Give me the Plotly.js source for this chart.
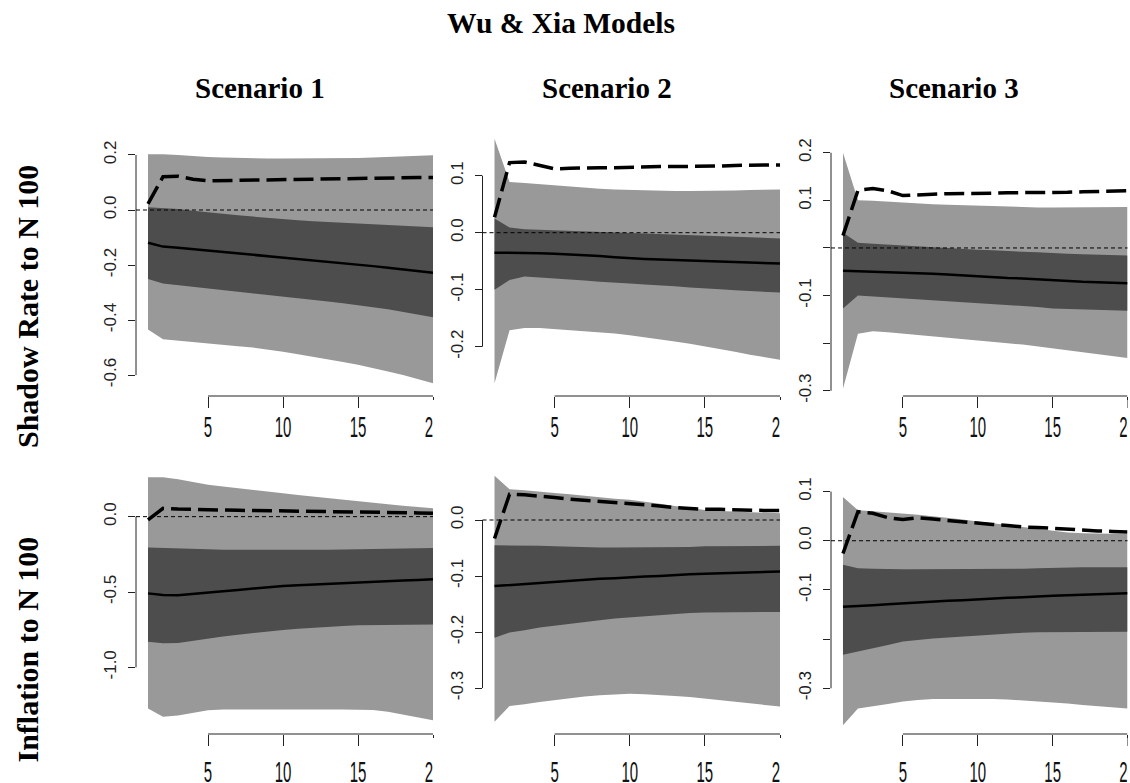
<!DOCTYPE html>
<html>
<head>
<meta charset="utf-8">
<script src="https://cdn.plot.ly/plotly-3.0.1.min.js"></script>
<style>
  html, body { margin: 0; padding: 0; background: #fff; }
  #chart { width: 1130px; height: 783px; }
</style>
</head>
<body>
<div id="chart"></div>
<script>
// ---------------- DATA ----------------
const horizon = [1,2,3,4,5,6,7,8,9,10,11,12,13,14,15,16,17,18,19,20];
const xTickVals = [5, 10, 15, 20];
const xTickText = ["5", "10", "15", "20"];

const mainTitle = "Wu & Xia Models";
const scenarioTitles = ["Scenario 1", "Scenario 2", "Scenario 3"];
const rowTitles = ["Shadow Rate to N 100", "Inflation to N 100"];

// Shadow Rate to N 100 — Scenario 1
const sr1OuterHi = [0.203,0.203,0.200,0.196,0.193,0.191,0.189,0.188,0.187,0.187,0.187,0.187,0.187,0.188,0.189,0.191,0.193,0.196,0.198,0.199];
const sr1InnerHi = [0.010,0.008,0.004,-0.003,-0.009,-0.014,-0.019,-0.024,-0.029,-0.033,-0.037,-0.041,-0.044,-0.047,-0.050,-0.053,-0.056,-0.059,-0.061,-0.063];
const sr1Median  = [-0.119,-0.133,-0.137,-0.142,-0.148,-0.153,-0.158,-0.163,-0.168,-0.174,-0.179,-0.184,-0.189,-0.194,-0.199,-0.204,-0.210,-0.216,-0.222,-0.228];
const sr1InnerLo = [-0.251,-0.267,-0.272,-0.278,-0.285,-0.291,-0.297,-0.303,-0.309,-0.315,-0.321,-0.327,-0.333,-0.339,-0.345,-0.353,-0.361,-0.370,-0.380,-0.390];
const sr1OuterLo = [-0.434,-0.470,-0.475,-0.480,-0.485,-0.490,-0.495,-0.500,-0.507,-0.515,-0.524,-0.533,-0.542,-0.552,-0.562,-0.574,-0.587,-0.600,-0.614,-0.630];
const sr1Dashed  = [0.022,0.121,0.123,0.112,0.106,0.107,0.108,0.109,0.110,0.111,0.112,0.113,0.114,0.115,0.116,0.117,0.117,0.118,0.118,0.118];
const sr1TickVals = [-0.6,-0.4,-0.2,0,0.2];
const sr1TickText = ["-0.6","-0.4","-0.2","0.0","0.2"];

// Shadow Rate to N 100 — Scenario 2
const sr2OuterHi = [0.165,0.089,0.087,0.085,0.082,0.080,0.079,0.077,0.076,0.075,0.074,0.074,0.073,0.073,0.073,0.074,0.074,0.075,0.075,0.076];
const sr2InnerHi = [0.025,0.009,0.006,0.005,0.004,0.003,0.002,0.001,0.000,-0.001,-0.002,-0.003,-0.004,-0.005,-0.006,-0.007,-0.008,-0.009,-0.010,-0.010];
const sr2Median  = [-0.035,-0.035,-0.036,-0.036,-0.037,-0.038,-0.040,-0.041,-0.043,-0.045,-0.046,-0.047,-0.048,-0.049,-0.049,-0.050,-0.051,-0.052,-0.053,-0.054];
const sr2InnerLo = [-0.100,-0.083,-0.077,-0.078,-0.080,-0.082,-0.084,-0.086,-0.088,-0.089,-0.091,-0.093,-0.094,-0.096,-0.098,-0.099,-0.101,-0.102,-0.104,-0.105];
const sr2OuterLo = [-0.264,-0.171,-0.167,-0.167,-0.168,-0.170,-0.172,-0.175,-0.177,-0.180,-0.183,-0.187,-0.191,-0.195,-0.200,-0.204,-0.209,-0.214,-0.219,-0.223];
const sr2Dashed  = [0.027,0.123,0.124,0.118,0.112,0.113,0.114,0.114,0.114,0.115,0.115,0.116,0.116,0.116,0.117,0.117,0.118,0.118,0.118,0.119];
const sr2TickVals = [-0.2,-0.1,0,0.1];
const sr2TickText = ["-0.2","-0.1","0.0","0.1"];

// Shadow Rate to N 100 — Scenario 3
const sr3OuterHi = [0.200,0.100,0.099,0.097,0.095,0.094,0.092,0.091,0.090,0.088,0.087,0.087,0.086,0.085,0.085,0.085,0.085,0.085,0.086,0.086];
const sr3InnerHi = [0.032,0.011,0.009,0.007,0.005,0.003,0.001,-0.001,-0.002,-0.004,-0.005,-0.007,-0.008,-0.009,-0.011,-0.012,-0.013,-0.014,-0.015,-0.016];
const sr3Median  = [-0.048,-0.049,-0.050,-0.050,-0.051,-0.052,-0.054,-0.056,-0.058,-0.060,-0.061,-0.063,-0.064,-0.066,-0.068,-0.069,-0.071,-0.072,-0.073,-0.074];
const sr3InnerLo = [-0.127,-0.100,-0.102,-0.104,-0.106,-0.108,-0.110,-0.112,-0.114,-0.116,-0.118,-0.120,-0.122,-0.124,-0.127,-0.128,-0.129,-0.130,-0.131,-0.132];
const sr3OuterLo = [-0.296,-0.180,-0.175,-0.177,-0.180,-0.182,-0.185,-0.188,-0.191,-0.194,-0.197,-0.200,-0.203,-0.207,-0.210,-0.214,-0.218,-0.222,-0.227,-0.231];
const sr3Dashed  = [0.026,0.121,0.125,0.120,0.110,0.112,0.113,0.114,0.114,0.115,0.115,0.116,0.116,0.116,0.116,0.117,0.118,0.119,0.119,0.120];
const sr3TickVals = [-0.3,-0.2,-0.1,0,0.1,0.2];
const sr3TickText = ["-0.3","","-0.1","","0.1","0.2"];

// Inflation to N 100 — Scenario 1
const inf1OuterHi = [0.262,0.261,0.248,0.230,0.212,0.200,0.190,0.178,0.166,0.155,0.144,0.133,0.122,0.111,0.100,0.091,0.082,0.072,0.063,0.055];
const inf1InnerHi = [-0.204,-0.208,-0.212,-0.215,-0.217,-0.219,-0.220,-0.221,-0.221,-0.221,-0.221,-0.220,-0.219,-0.217,-0.215,-0.213,-0.211,-0.209,-0.208,-0.208];
const inf1Median  = [-0.509,-0.520,-0.521,-0.514,-0.504,-0.495,-0.486,-0.477,-0.468,-0.460,-0.455,-0.450,-0.446,-0.442,-0.438,-0.434,-0.429,-0.424,-0.420,-0.416];
const inf1InnerLo = [-0.830,-0.840,-0.838,-0.825,-0.808,-0.795,-0.783,-0.771,-0.761,-0.752,-0.744,-0.737,-0.730,-0.725,-0.720,-0.717,-0.716,-0.715,-0.715,-0.715];
const inf1OuterLo = [-1.272,-1.327,-1.320,-1.300,-1.285,-1.279,-1.279,-1.279,-1.279,-1.279,-1.279,-1.279,-1.279,-1.279,-1.279,-1.283,-1.295,-1.310,-1.330,-1.350];
const inf1Dashed  = [-0.022,0.055,0.050,0.047,0.044,0.043,0.042,0.041,0.040,0.039,0.038,0.037,0.036,0.035,0.033,0.031,0.029,0.027,0.025,0.022];
const inf1TickVals = [-1.0,-0.5,0];
const inf1TickText = ["-1.0","-0.5","0.0"];

// Inflation to N 100 — Scenario 2
const inf2OuterHi = [0.079,0.055,0.053,0.050,0.048,0.046,0.043,0.040,0.038,0.036,0.033,0.029,0.025,0.021,0.018,0.016,0.015,0.014,0.013,0.012];
const inf2InnerHi = [-0.045,-0.045,-0.046,-0.046,-0.047,-0.048,-0.049,-0.049,-0.049,-0.049,-0.049,-0.048,-0.048,-0.048,-0.047,-0.047,-0.046,-0.046,-0.046,-0.046];
const inf2Median  = [-0.118,-0.116,-0.114,-0.112,-0.110,-0.108,-0.107,-0.105,-0.104,-0.102,-0.101,-0.100,-0.098,-0.097,-0.096,-0.095,-0.094,-0.093,-0.093,-0.092];
const inf2InnerLo = [-0.210,-0.201,-0.197,-0.192,-0.188,-0.185,-0.182,-0.179,-0.176,-0.173,-0.171,-0.169,-0.168,-0.166,-0.165,-0.165,-0.164,-0.164,-0.164,-0.164];
const inf2OuterLo = [-0.360,-0.332,-0.329,-0.325,-0.321,-0.318,-0.315,-0.313,-0.311,-0.310,-0.311,-0.312,-0.314,-0.316,-0.318,-0.321,-0.324,-0.327,-0.330,-0.333];
const inf2Dashed  = [-0.033,0.046,0.045,0.043,0.040,0.037,0.035,0.033,0.032,0.030,0.028,0.025,0.022,0.020,0.019,0.019,0.018,0.018,0.017,0.017];
const inf2TickVals = [-0.3,-0.2,-0.1,0];
const inf2TickText = ["-0.3","-0.2","-0.1","0.0"];

// Inflation to N 100 — Scenario 3
const inf3OuterHi = [0.089,0.062,0.060,0.058,0.056,0.053,0.050,0.047,0.043,0.039,0.036,0.032,0.028,0.024,0.020,0.017,0.015,0.014,0.014,0.0135];
const inf3InnerHi = [-0.049,-0.056,-0.057,-0.058,-0.058,-0.058,-0.058,-0.058,-0.058,-0.058,-0.058,-0.057,-0.057,-0.056,-0.055,-0.055,-0.054,-0.054,-0.054,-0.054];
const inf3Median  = [-0.134,-0.133,-0.131,-0.129,-0.127,-0.125,-0.124,-0.122,-0.121,-0.119,-0.118,-0.116,-0.115,-0.113,-0.112,-0.111,-0.110,-0.109,-0.108,-0.107];
const inf3InnerLo = [-0.232,-0.226,-0.219,-0.212,-0.205,-0.202,-0.199,-0.196,-0.194,-0.192,-0.190,-0.189,-0.187,-0.186,-0.185,-0.185,-0.185,-0.185,-0.185,-0.185];
const inf3OuterLo = [-0.375,-0.341,-0.337,-0.332,-0.327,-0.324,-0.322,-0.322,-0.322,-0.322,-0.322,-0.323,-0.324,-0.326,-0.329,-0.331,-0.334,-0.336,-0.339,-0.341];
const inf3Dashed  = [-0.026,0.059,0.056,0.047,0.043,0.047,0.044,0.041,0.038,0.035,0.033,0.031,0.028,0.027,0.025,0.023,0.022,0.020,0.019,0.018];
const inf3TickVals = [-0.3,-0.2,-0.1,0,0.1];
const inf3TickText = ["-0.3","","-0.1","0.0","0.1"];

// ---------------- LAYOUT / STYLE ----------------
const W = 1130, H = 783;
const colPx = [[136, 433], [482.5, 780], [831, 1127.5]];
const rowPx = [[128, 396], [466, 734]];
const rowLabelStandoff = [-7, 0];
const figCenters = [259.5, 606.5, 953.5];
const rowCenters = [307, 649.5];

const panels = [
  {row:0, col:0, hi:sr1OuterHi, ihi:sr1InnerHi, med:sr1Median, ilo:sr1InnerLo, lo:sr1OuterLo, dash:sr1Dashed, tv:sr1TickVals, tt:sr1TickText, yr:[-0.676, 0.298]},
  {row:0, col:1, hi:sr2OuterHi, ihi:sr2InnerHi, med:sr2Median, ilo:sr2InnerLo, lo:sr2OuterLo, dash:sr2Dashed, tv:sr2TickVals, tt:sr2TickText, yr:[-0.2865, 0.1837]},
  {row:0, col:2, hi:sr3OuterHi, ihi:sr3InnerHi, med:sr3Median, ilo:sr3InnerLo, lo:sr3OuterLo, dash:sr3Dashed, tv:sr3TickVals, tt:sr3TickText, yr:[-0.311, 0.252]},
  {row:1, col:0, hi:inf1OuterHi, ihi:inf1InnerHi, med:inf1Median, ilo:inf1InnerLo, lo:inf1OuterLo, dash:inf1Dashed, tv:inf1TickVals, tt:inf1TickText, yr:[-1.442, 0.336]},
  {row:1, col:1, hi:inf2OuterHi, ihi:inf2InnerHi, med:inf2Median, ilo:inf2InnerLo, lo:inf2OuterLo, dash:inf2Dashed, tv:inf2TickVals, tt:inf2TickText, yr:[-0.382, 0.0964]},
  {row:1, col:2, hi:inf3OuterHi, ihi:inf3InnerHi, med:inf3Median, ilo:inf3InnerLo, lo:inf3OuterLo, dash:inf3Dashed, tv:inf3TickVals, tt:inf3TickText, yr:[-0.393, 0.152]}
];

const LIGHT = '#999999', DARK = '#4d4d4d';
const sans = 'Liberation Sans, Arial, sans-serif';
const serif = 'Liberation Serif, Times New Roman, serif';

const traces = [];
const shapes = [];
const annotations = [];
const layout = {
  width: W, height: H,
  margin: {l:0, r:0, t:0, b:0},
  paper_bgcolor: '#fff', plot_bgcolor: 'rgba(0,0,0,0)',
  showlegend: false,
  title: {text: '<b>' + mainTitle + '</b>', x: 561 / W, xanchor: 'center', y: 1 - 23 / H, yanchor: 'middle',
          font: {family: serif, size: 29.5, color: '#000'}},
  shapes: shapes, annotations: annotations
};

const rev = a => a.slice().reverse();
const polyX = horizon.concat(rev(horizon));

panels.forEach((p, i) => {
  const n = i + 1;
  const xa = n === 1 ? 'x' : 'x' + n;
  const ya = n === 1 ? 'y' : 'y' + n;
  const c = colPx[p.col], r = rowPx[p.row];

  layout[n === 1 ? 'xaxis' : 'xaxis' + n] = {
    domain: [c[0] / W, c[1] / W], range: [0.2, 20], anchor: ya,
    tickmode: 'array', tickvals: xTickVals, ticktext: xTickText,
    ticks: 'outside', ticklen: 11, tickwidth: 1, tickcolor: '#222',
    ticklabelstandoff: rowLabelStandoff[p.row], ticklabeloverflow: 'allow',
    showline: false, showgrid: false, zeroline: false, fixedrange: true,
    tickfont: {family: sans, size: 30, color: '#111'}
  };
  layout[n === 1 ? 'yaxis' : 'yaxis' + n] = {
    domain: [1 - r[1] / H, 1 - r[0] / H], range: p.yr, anchor: xa,
    tickmode: 'array', tickvals: p.tv, ticktext: p.tt, tickangle: -90,
    ticks: 'outside', ticklen: 7, tickwidth: 1, tickcolor: '#222',
    ticklabelstandoff: 5, ticklabeloverflow: 'allow',
    showline: false, showgrid: false, zeroline: false, fixedrange: true,
    tickfont: {family: sans, size: 17, color: '#222'}
  };

  traces.push({x: polyX, y: p.hi.concat(rev(p.lo)), xaxis: xa, yaxis: ya, type: 'scatter', mode: 'lines',
               fill: 'toself', fillcolor: LIGHT, line: {width: 0, color: LIGHT}, hoverinfo: 'skip'});
  traces.push({x: polyX, y: p.ihi.concat(rev(p.ilo)), xaxis: xa, yaxis: ya, type: 'scatter', mode: 'lines',
               fill: 'toself', fillcolor: DARK, line: {width: 0, color: DARK}, hoverinfo: 'skip'});
  traces.push({x: horizon, y: p.med, xaxis: xa, yaxis: ya, type: 'scatter', mode: 'lines',
               line: {color: '#000', width: 2.5}, hoverinfo: 'skip'});
  traces.push({x: horizon, y: p.dash, xaxis: xa, yaxis: ya, type: 'scatter', mode: 'lines',
               line: {color: '#000', width: 3.5, dash: '20px,7px'}, hoverinfo: 'skip'});

  // R-style axis lines spanning first to last tick
  shapes.push({type: 'line', xref: xa + ' domain', yref: ya, x0: 0, x1: 0,
               y0: Math.min(...p.tv), y1: Math.max(...p.tv), line: {color: '#222', width: 1}, layer: 'above'});
  shapes.push({type: 'line', xref: xa, yref: ya + ' domain', x0: Math.min(...xTickVals), x1: Math.max(...xTickVals),
               y0: 0, y1: 0, line: {color: '#222', width: 1}, layer: 'above'});
  // zero reference line
  shapes.push({type: 'line', xref: xa + ' domain', yref: ya, x0: 0, x1: 1, y0: 0, y1: 0,
               line: {color: '#000', width: 1, dash: '4px,3px'}, layer: 'above'});
  // figure-region clipping of the last x tick label
  shapes.push({type: 'rect', xref: 'paper', yref: 'paper', x0: c[1] / W, x1: Math.min(c[1] + 16, W) / W,
               y0: Math.max(0, 1 - (r[1] + 60) / H), y1: 1 - (r[1] + 4) / H, fillcolor: '#fff', line: {width: 0}, layer: 'above'});
});

scenarioTitles.forEach((t, j) => {
  annotations.push({text: '<b>' + t + '</b>', xref: 'paper', yref: 'paper', x: figCenters[j] / W, y: 1 - 88 / H,
                    xanchor: 'center', yanchor: 'middle', showarrow: false,
                    font: {family: serif, size: 29, color: '#000'}});
});
rowTitles.forEach((t, j) => {
  annotations.push({text: '<b>' + t + '</b>', xref: 'paper', yref: 'paper', x: 27 / W, y: 1 - rowCenters[j] / H,
                    xanchor: 'center', yanchor: 'middle', textangle: -90, showarrow: false,
                    font: {family: serif, size: 30, color: '#000'}});
});

Plotly.newPlot('chart', traces, layout, {staticPlot: true, displayModeBar: false}).then(gd => {
  // narrow, tall x tick digits as in the reference
  gd.querySelectorAll('g.xaxislayer-above text').forEach(t => {
    const tr = t.getAttribute('transform') || '';
    t.setAttribute('transform', tr + ' scale(0.5,1)');
  });
});
</script>
</body>
</html>
